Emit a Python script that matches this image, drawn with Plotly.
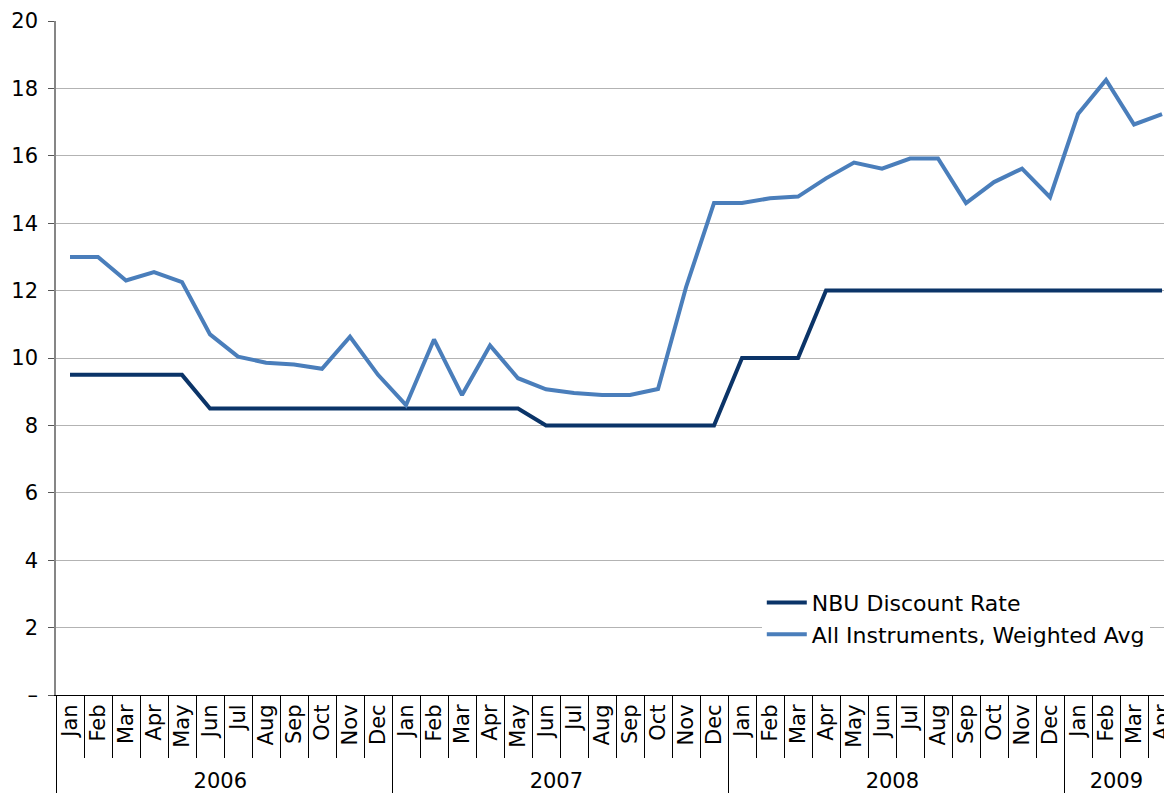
import plotly.graph_objects as go

years = ["2006"] * 12 + ["2007"] * 12 + ["2008"] * 12 + ["2009"] * 4
month_names = ["Jan", "Feb", "Mar", "Apr", "May", "Jun", "Jul", "Aug", "Sep", "Oct", "Nov", "Dec"]
months = month_names * 3 + month_names[:4]

nbu_rate = [9.5, 9.5, 9.5, 9.5, 9.5, 8.5, 8.5, 8.5, 8.5, 8.5, 8.5, 8.5,
            8.5, 8.5, 8.5, 8.5, 8.5, 8.0, 8.0, 8.0, 8.0, 8.0, 8.0, 8.0,
            10.0, 10.0, 10.0, 12.0, 12.0, 12.0, 12.0, 12.0, 12.0, 12.0, 12.0, 12.0,
            12.0, 12.0, 12.0, 12.0]
weighted_avg = [13.0, 13.0, 12.3, 12.55, 12.25, 10.7, 10.04, 9.86, 9.81, 9.68, 10.63, 9.5,
                8.6, 10.55, 8.9, 10.37, 9.4, 9.07, 8.96, 8.9, 8.9, 9.08, 12.1, 14.6,
                14.6, 14.74, 14.79, 15.33, 15.8, 15.62, 15.92, 15.92, 14.6, 15.22, 15.62, 14.77,
                17.24, 18.25, 16.93, 17.24]

y_ticks = [0, 2, 4, 6, 8, 10, 12, 14, 16, 18, 20]
y_ticktext = ["–", "2", "4", "6", "8", "10", "12", "14", "16", "18", "20"]

fig = go.Figure()
fig.add_trace(go.Scatter(x=[years, months], y=nbu_rate, mode="lines",
                         name="NBU Discount Rate",
                         line=dict(color="#0b3468", width=4)))
fig.add_trace(go.Scatter(x=[years, months], y=weighted_avg, mode="lines",
                         name="All Instruments, Weighted Avg",
                         line=dict(color="#4a7ebb", width=4)))

fig.update_layout(
    width=1164, height=796,
    margin=dict(l=56, r=0, t=21, b=101, autoexpand=False),
    paper_bgcolor="white", plot_bgcolor="white",
    font=dict(family="DejaVu Sans", size=20, color="black"),
    showlegend=True,
    legend=dict(x=0.637, y=0.168, xanchor="left", yanchor="top",
                bgcolor="white", font=dict(size=22, color="black"),
                itemwidth=40),
)
fig.update_xaxes(type="multicategory", range=[-0.5, 39.07], automargin=False,
                 showgrid=False, showline=True, linecolor="black", linewidth=1,
                 ticks="outside", tickson="boundaries", ticklen=62, tickcolor="black",
                 tickangle=-90, tickfont=dict(size=21, color="black"),
                 showdividers=True, dividercolor="black", dividerwidth=1)
fig.update_yaxes(range=[0, 20], tickvals=y_ticks, ticktext=y_ticktext, automargin=False,
                 showgrid=True, gridcolor="#b3b3b3", gridwidth=1,
                 showline=True, linecolor="#868686", linewidth=1.5,
                 ticks="outside", ticklen=6, tickcolor="#555555", ticklabelstandoff=6,
                 tickfont=dict(size=21, color="black"), zeroline=False)

fig.write_html("out.html", config={"displayModeBar": False},
               post_script="document.body.style.margin='0';document.body.style.overflow='hidden';")
